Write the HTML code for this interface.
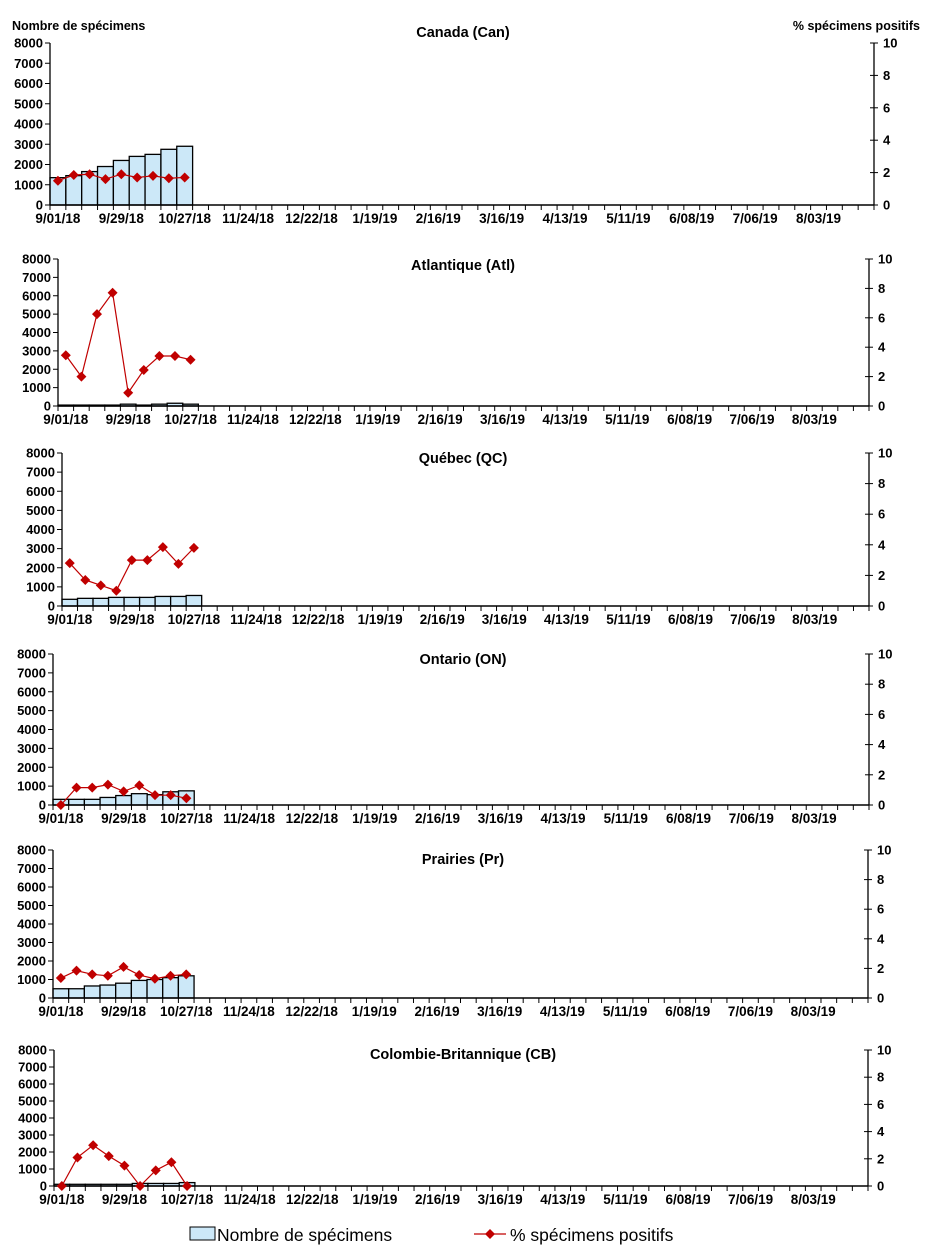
<!DOCTYPE html>
<html><head><meta charset="utf-8"><style>
html,body{margin:0;padding:0;background:#fff;}
svg{display:block;font-family:"Liberation Sans",Arial,sans-serif;}
</style></head><body>
<svg id="chart" width="926" height="1257" viewBox="0 0 926 1257" xmlns="http://www.w3.org/2000/svg">
<text x="12" y="30" font-size="12.5" font-weight="bold">Nombre de spécimens</text>
<text x="920" y="30" font-size="12.5" font-weight="bold" text-anchor="end">% spécimens positifs</text>
<g>
<rect x="190" y="1227" width="25" height="13" fill="#CCE8F8" stroke="#000" stroke-width="1"/>
<text x="217" y="1241" font-size="17.5">Nombre de spécimens</text>
<line x1="474" y1="1234" x2="506" y2="1234" stroke="#C00000" stroke-width="1.2"/>
<path d="M490 1229 L495 1234 L490 1239 L485 1234 Z" fill="#C00000"/>
<text x="510" y="1241" font-size="17.5">% spécimens positifs</text>
</g>
</svg>
<script>
const xLabels = ["9/01/18","9/29/18","10/27/18","11/24/18","12/22/18","1/19/19","2/16/19","3/16/19","4/13/19","5/11/19","6/08/19","7/06/19","8/03/19"];
const leftTicks = [0,1000,2000,3000,4000,5000,6000,7000,8000];
const rightTicks = [0,2,4,6,8,10];
const panelTitles = ["Canada (Can)","Atlantique (Atl)","Québec (QC)","Ontario (ON)","Prairies (Pr)","Colombie-Britannique (CB)"];
const canCounts = [1350,1450,1650,1900,2200,2400,2500,2750,2900];
const canPct = [1.5,1.85,1.9,1.6,1.9,1.7,1.8,1.65,1.7];
const atlCounts = [50,50,50,50,100,50,100,150,100];
const atlPct = [3.45,2.0,6.25,7.7,0.9,2.45,3.4,3.4,3.15];
const qcCounts = [350,400,400,450,450,450,500,500,550];
const qcPct = [2.8,1.7,1.35,1.0,3.0,3.0,3.85,2.75,3.8];
const onCounts = [300,300,300,400,500,600,550,700,750];
const onPct = [0,1.15,1.15,1.35,0.9,1.3,0.65,0.65,0.45];
const prCounts = [500,500,650,700,800,950,1000,1100,1200];
const prPct = [1.35,1.85,1.6,1.5,2.1,1.55,1.3,1.5,1.6];
const cbCounts = [100,100,100,100,100,150,150,150,200];
const cbPct = [0,2.1,3.0,2.2,1.5,0,1.15,1.75,0];
const NCAT = 52;

const panels = [
 {key:"canada",counts:canCounts,pct:canPct,l:50,r:874,t:43,b:205,ty:37},
 {key:"atlantique",counts:atlCounts,pct:atlPct,l:58,r:869,t:259,b:406,ty:270},
 {key:"quebec",counts:qcCounts,pct:qcPct,l:62,r:869,t:453,b:606,ty:463},
 {key:"ontario",counts:onCounts,pct:onPct,l:53,r:869,t:654,b:805,ty:664},
 {key:"prairies",counts:prCounts,pct:prPct,l:53,r:868,t:850,b:998,ty:864},
 {key:"cb",counts:cbCounts,pct:cbPct,l:54,r:868,t:1050,b:1186,ty:1059}
];
const NS="http://www.w3.org/2000/svg";
const svg=document.getElementById("chart");
function mk(tag,attrs,parent){const e=document.createElementNS(NS,tag);for(const k in attrs)e.setAttribute(k,attrs[k]);(parent||svg).appendChild(e);return e;}

panels.forEach((p,pi)=>{
 const g=mk("g",{});
 
 
 const cw=(p.r-p.l)/NCAT;
 const xAt=i=>p.l+i*cw;
 const yL=v=>p.b-(v/8000)*(p.b-p.t);
 const yR=v=>p.b-(v/10)*(p.b-p.t);
 const title=mk("text",{x:463,y:p.ty,"font-size":14.5,"font-weight":"bold","text-anchor":"middle"},g);
 title.textContent=panelTitles[pi];
 
 
 p.counts.forEach((v,i)=>{
  const r=mk("rect",{x:xAt(i),y:yL(v),width:cw,height:p.b-yL(v),fill:"#CCE8F8",stroke:"#000","stroke-width":1.3},g);
  
  
 });
 mk("line",{x1:p.l,y1:p.t,x2:p.l,y2:p.b,stroke:"#000","stroke-width":1.3},g);
 mk("line",{x1:p.r,y1:p.t,x2:p.r,y2:p.b,stroke:"#000","stroke-width":1.3},g);
 mk("line",{x1:p.l,y1:p.b,x2:p.r,y2:p.b,stroke:"#000","stroke-width":1.5},g);
 leftTicks.forEach(v=>{
  mk("line",{x1:p.l-5,y1:yL(v),x2:p.l,y2:yL(v),stroke:"#000"},g);
  const t=mk("text",{x:p.l-7,y:yL(v)+4.5,"font-size":13,"font-weight":"bold","text-anchor":"end"},g);
  t.textContent=v;
  
  
 });
 rightTicks.forEach(v=>{
  mk("line",{x1:p.r-4,y1:yR(v),x2:p.r+4,y2:yR(v),stroke:"#000"},g);
  const t=mk("text",{x:p.r+9,y:yR(v)+4.5,"font-size":13,"font-weight":"bold"},g);
  t.textContent=v;
  
  
 });
 for(let i=0;i<=NCAT;i++) mk("line",{x1:xAt(i),y1:p.b,x2:xAt(i),y2:p.b+5,stroke:"#000"},g);
 xLabels.forEach((s,k)=>{
  const t=mk("text",{x:xAt(k*4+0.5),y:p.b+18,"font-size":13.5,"font-weight":"bold","text-anchor":"middle"},g);
  t.textContent=s;
  
  
 });
 const pts=p.pct.map((v,i)=>(xAt(i+0.5))+","+yR(v)).join(" ");
 const pl=mk("polyline",{points:pts,fill:"none",stroke:"#C00000","stroke-width":1.2},g);
 
 
 p.pct.forEach((v,i)=>{
  const cx=xAt(i+0.5),cy=yR(v);
  const d=mk("path",{d:`M${cx} ${cy-5}L${cx+5} ${cy}L${cx} ${cy+5}L${cx-5} ${cy}Z`,fill:"#C00000"},g);
  
  
 });
});
</script>
</body></html>
